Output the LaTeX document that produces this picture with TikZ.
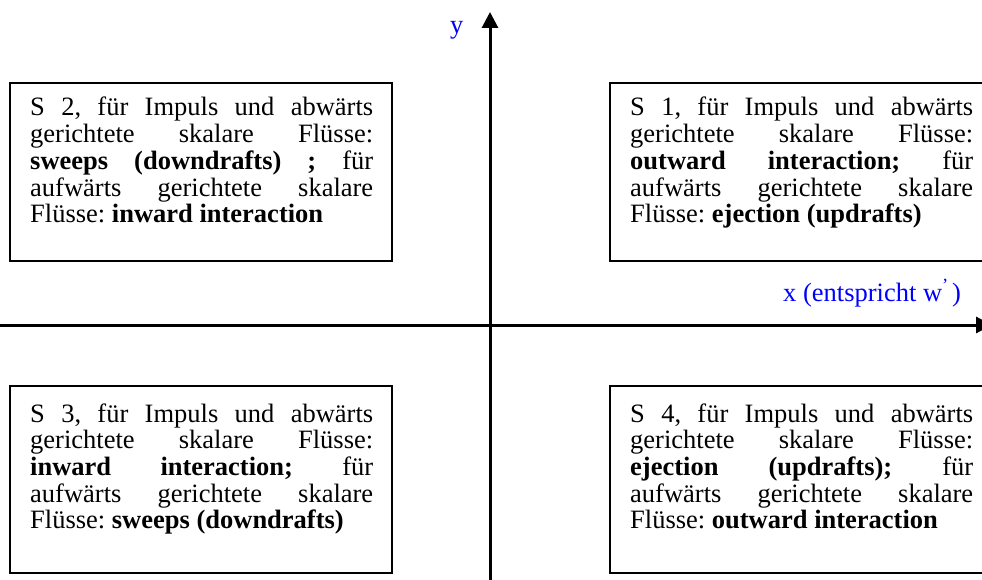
\documentclass[tikz,border=0pt]{standalone}
\usepackage{fontspec}
\setmainfont{Liberation Serif}
\usetikzlibrary{arrows.meta,calc}
\newcommand{\jline}[1]{\makebox[343pt][s]{\spaceskip=.25em plus 1fil\xspaceskip=.25em plus 1fil #1}\\}
\newcommand{\normsp}{\spaceskip=0pt\xspaceskip=0pt\frenchspacing}
\tikzset{
  qbox/.style={draw, line width=2pt, minimum width=382pt, anchor=north west, inner sep=0pt},
  qtext/.style={anchor=base west, inner sep=0pt, text width=343pt, align=left,
    font={\fontsize{26.5}{26.7}\selectfont}},
  axis/.style={line width=3pt, -{Triangle[width=16pt,length=16pt]}},
  axlabel/.style={anchor=base west, inner sep=0pt, text=blue,
    font={\fontsize{26.5}{26.7}\selectfont}}
}
\begin{document}
\begin{tikzpicture}[x=1pt,y=-1pt]
\useasboundingbox (0,0) rectangle (982,580);
% axes
\coordinate (ybot) at (490,590);
\coordinate (ytop) at (490,12);
\coordinate (xleft) at (-5,325);
\coordinate (xright) at (992,325);
\draw[axis] (ybot) -- (ytop);
\draw[axis] (xleft) -- (xright);
\node[axlabel] (ylab) at (450,34) {y};
\node[axlabel] (xlab) at (783,301) {x (entspricht w\textsuperscript{’}\hspace{0.12em})};
% boxes
\node[qbox, minimum height=178pt] (b2) at (9,82) {};
\node[qbox, minimum height=178pt] (b1) at (609,82) {};
\node[qbox, minimum height=187pt] (b3) at (9,385) {};
\node[qbox, minimum height=187pt] (b4) at (609,385) {};
% texts
\node[qtext] (t2) at ($(b2.north west)+(21,34)$) {\normsp
\jline{S 2, für Impuls und abwärts}%
\jline{gerichtete skalare Flüsse:}%
\jline{\textbf{sweeps (downdrafts) ;} für}%
\jline{aufwärts gerichtete skalare}%
Flüsse: \textbf{inward interaction}};
\node[qtext] (t1) at ($(b1.north west)+(21,34)$) {\normsp
\jline{S 1, für Impuls und abwärts}%
\jline{gerichtete skalare Flüsse:}%
\jline{\textbf{outward interaction;} für}%
\jline{aufwärts gerichtete skalare}%
Flüsse: \textbf{ejection (updrafts)}};
\node[qtext] (t3) at ($(b3.north west)+(21,37)$) {\normsp
\jline{S 3, für Impuls und abwärts}%
\jline{gerichtete skalare Flüsse:}%
\jline{\textbf{inward interaction;} für}%
\jline{aufwärts gerichtete skalare}%
Flüsse: \textbf{sweeps (downdrafts)}};
\node[qtext] (t4) at ($(b4.north west)+(21,37)$) {\normsp
\jline{S 4, für Impuls und abwärts}%
\jline{gerichtete skalare Flüsse:}%
\jline{\textbf{ejection (updrafts);} für}%
\jline{aufwärts gerichtete skalare}%
Flüsse: \textbf{outward interaction}};
\end{tikzpicture}
\end{document}
